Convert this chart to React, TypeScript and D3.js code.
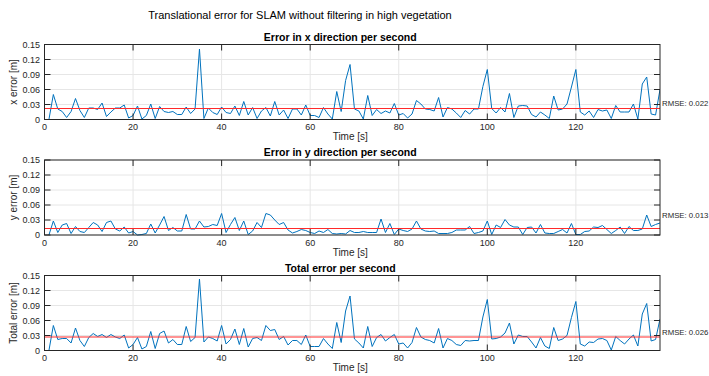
import React from "react";
import * as d3 from "d3";

const mainTitle = "Translational error for SLAM without filtering in high vegetation";
const titles = ["Error in x direction per second", "Error in y direction per second", "Total error per second"];
const yLabels = ["x error [m]", "y error [m]", "Total error [m]"];
const xLabel = "Time [s]";
const xTicks = [0, 20, 40, 60, 80, 100, 120];
const yTicks = [0, 0.03, 0.06, 0.09, 0.12, 0.15];
const rmseValues = [0.022, 0.013, 0.027];
const rmseLabels = ["RMSE: 0.022", "RMSE: 0.013", "RMSE: 0.026"];

const xError = [
  0, 0.05, 0.021, 0.016, 0.004, 0.016, 0.042, 0.018, 0.004, 0.023,
  0.023, 0.02, 0.033, 0.006, 0.015, 0.023, 0.023, 0.029, 0.003, 0.008,
  0.027, 0.001, 0.008, 0.031, 0.002, 0.026, 0.016, 0.014, 0.016, 0.01,
  0.01, 0.025, 0.012, 0.021, 0.141, 0.002, 0.023, 0.014, 0.01, 0.025,
  0.014, 0.012, 0.027, 0.008, 0.036, 0.009, 0.024, 0.002, 0.017, 0.024,
  0.007, 0.036, 0.009, 0.019, 0.002, 0.021, 0.021, 0.009, 0.029, 0.008,
  0.008, 0.004, 0.024, 0.011, 0.001, 0.056, 0.016, 0.078, 0.11, 0.021,
  0.017, 0.001, 0.048, 0.008, 0.02, 0.012, 0.017, 0.013, 0.032, 0.009,
  0.012, 0.003, 0.011, 0.038, 0.031, 0.021, 0.02, 0.017, 0.044, 0.005,
  0.024, 0.021, 0.013, 0.004, 0.018, 0.011, 0.021, 0.021, 0.066, 0.1,
  0.022, 0.013, 0.024, 0.015, 0.052, 0.004, 0.027, 0.028, 0.027, 0.01,
  0.005, 0.015, 0.009, 0.002, 0.047, 0.019, 0.021, 0.031, 0.065, 0.1,
  0.015, 0.009, 0.017, 0.004, 0.02, 0.017, 0.019, 0.002, 0.028, 0.015,
  0.015, 0.015, 0.031, 0.001, 0.071, 0.085, 0.011, 0.009, 0.06,
];

const yError = [
  0, 0.028, 0.005, 0.02, 0.023, 0.003, 0.017, 0.007, 0.005, 0.015,
  0.025, 0.02, 0.007, 0.025, 0.028, 0.012, 0.008, 0.016, 0.004, 0.007,
  0, 0.001, 0.003, 0.022, 0.004, 0.02, 0.037, 0.009, 0.015, 0.008,
  0.008, 0.041, 0.012, 0.012, 0.028, 0.016, 0.017, 0.021, 0.019, 0.043,
  0.005, 0.021, 0.035, 0.009, 0.028, 0.001, 0.008, 0.025, 0.015, 0.043,
  0.04, 0.03, 0.021, 0.025, 0.01, 0.004, 0.007, 0.011, 0.009, 0.005,
  0.003, 0.008, 0.005, 0.011, 0.003, 0.002, 0.003, 0.002, 0.009, 0.005,
  0.005, 0.007, 0.005, 0.005, 0.005, 0.032, 0.005, 0.023, 0.001, 0.012,
  0.009, 0.007, 0.012, 0.028, 0.012, 0.008, 0.007, 0.008, 0.003, 0.003,
  0.003, 0.005, 0.01, 0.01, 0.01, 0.017, 0.003, 0.005, 0.008, 0.028,
  0.001, 0.02, 0.015, 0.031, 0.02, 0.016, 0.016, 0.001, 0.015, 0.016,
  0.004, 0.021, 0.004, 0.003, 0.003, 0.007, 0.011, 0.004, 0.023, 0.001,
  0.001, 0.007, 0.008, 0.016, 0.015, 0.019, 0.011, 0.003, 0.009, 0.016,
  0.003, 0.017, 0.009, 0.009, 0.012, 0.04, 0.017, 0.021, 0.024,
];

const totalError = [
  0, 0.05, 0.022, 0.024, 0.024, 0.015, 0.045, 0.02, 0.008, 0.026,
  0.034, 0.028, 0.032, 0.026, 0.032, 0.027, 0.024, 0.031, 0.005, 0.012,
  0.026, 0.003, 0.008, 0.038, 0.004, 0.034, 0.039, 0.015, 0.022, 0.012,
  0.012, 0.048, 0.018, 0.026, 0.143, 0.017, 0.027, 0.024, 0.019, 0.05,
  0.013, 0.022, 0.043, 0.012, 0.044, 0.007, 0.024, 0.026, 0.02, 0.05,
  0.04, 0.042, 0.022, 0.028, 0.011, 0.02, 0.02, 0.012, 0.031, 0.008,
  0.008, 0.008, 0.024, 0.013, 0.004, 0.056, 0.016, 0.079, 0.109, 0.023,
  0.015, 0.005, 0.048, 0.008, 0.026, 0.032, 0.019, 0.026, 0.032, 0.013,
  0.015, 0.005, 0.016, 0.046, 0.027, 0.022, 0.02, 0.015, 0.044, 0.005,
  0.024, 0.02, 0.012, 0.01, 0.02, 0.019, 0.02, 0.02, 0.067, 0.102,
  0.023, 0.024, 0.027, 0.035, 0.055, 0.013, 0.031, 0.028, 0.028, 0.017,
  0.005, 0.026, 0.009, 0.004, 0.046, 0.02, 0.023, 0.03, 0.066, 0.098,
  0.013, 0.009, 0.017, 0.016, 0.023, 0.024, 0.02, 0.001, 0.028, 0.02,
  0.013, 0.023, 0.031, 0.009, 0.073, 0.094, 0.019, 0.022, 0.063,
];

const series = [xError, yError, totalError];
const rmseTextOffsets = [-5.5, -13, -4.5];

const W = 709;
const H = 376;
const left = 44.5;
const right = 660;
const tops = [44.5, 160, 275.5];
const plotH = 75;
const tickLen = 6;
const font = "'Liberation Sans', Arial, Helvetica, sans-serif";
const axisColor = "#262626";

function Panel({ idx }: { idx: number }) {
  const data = series[idx];
  const top = tops[idx];
  const bottom = top + plotH;
  const x = d3.scaleLinear().domain([0, 139]).range([left, right]);
  const y = d3.scaleLinear().domain([0, 0.15]).range([bottom, top]);
  const pts = data.map((v, i) => [i + 1, v] as [number, number]);
  const line = d3
    .line<[number, number]>()
    .x((d) => x(d[0]))
    .y((d) => y(d[1]));
  const cx = (left + right) / 2;
  const rm = rmseValues[idx];
  return (
    <g>
      <rect x={left} y={top} width={right - left} height={plotH} fill="#fff" />
      {xTicks.map((t) => (
        <line key={"gx" + t} x1={x(t)} x2={x(t)} y1={top} y2={bottom} stroke="#e6e6e6" strokeWidth={1} />
      ))}
      {yTicks.map((t) => (
        <line key={"gy" + t} x1={left} x2={right} y1={y(t)} y2={y(t)} stroke="#e6e6e6" strokeWidth={1} />
      ))}
      <clipPath id={"clip" + idx}>
        <rect x={left} y={top - 1} width={right - left} height={plotH + 2} />
      </clipPath>
      <g clipPath={`url(#clip${idx})`}>
        <path d={line(pts) || ""} fill="none" stroke="#0072BD" strokeWidth={1} strokeLinejoin="round" />
        <line x1={left} x2={right} y1={y(rm)} y2={y(rm)} stroke="#ff2a2a" strokeWidth={1.1} />
      </g>
      {xTicks.map((t) => (
        <g key={"tx" + t}>
          <line x1={x(t)} x2={x(t)} y1={bottom} y2={bottom - tickLen} stroke={axisColor} strokeWidth={1} />
          <line x1={x(t)} x2={x(t)} y1={top} y2={top + tickLen} stroke={axisColor} strokeWidth={1} />
          <text x={x(t)} y={bottom + 10.5} textAnchor="middle" fontSize={9} fill={axisColor} fontFamily={font}>
            {t}
          </text>
        </g>
      ))}
      {yTicks.map((t) => (
        <g key={"ty" + t}>
          <line x1={left} x2={left + tickLen} y1={y(t)} y2={y(t)} stroke={axisColor} strokeWidth={1} />
          <line x1={right} x2={right - tickLen} y1={y(t)} y2={y(t)} stroke={axisColor} strokeWidth={1} />
          <text x={left - 4.5} y={y(t)} dy="0.35em" textAnchor="end" fontSize={9} fill={axisColor} fontFamily={font}>
            {d3.format("~g")(t)}
          </text>
        </g>
      ))}
      <rect x={left} y={top} width={right - left} height={plotH} fill="none" stroke={axisColor} strokeWidth={1} />
      <text
        x={cx - 12}
        y={top - 4}
        textAnchor="middle"
        fontSize={10.5}
        fontWeight="bold"
        fill="#000"
        fontFamily={font}
      >
        {titles[idx]}
      </text>
      <text x={cx - 2} y={bottom + 20.5} textAnchor="middle" fontSize={10} fill={axisColor} fontFamily={font}>
        {xLabel}
      </text>
      <text
        transform={`translate(16.5,${(top + bottom) / 2}) rotate(-90)`}
        textAnchor="middle"
        fontSize={10}
        fill={axisColor}
        fontFamily={font}
      >
        {yLabels[idx]}
      </text>
      <text
        x={right + 2}
        y={y(rm) + rmseTextOffsets[idx]}
        dy="0.35em"
        fontSize={7.8}
        fill={axisColor}
        fontFamily={font}
      >
        {rmseLabels[idx]}
      </text>
    </g>
  );
}

export default function App() {
  return (
    <svg
      width={W}
      height={H}
      style={{ position: "absolute", left: 0, top: 0, display: "block", background: "#fff" }}
    >
      <rect x={0} y={0} width={W} height={H} fill="#fff" />
      <text x={300} y={19} textAnchor="middle" fontSize={11} fill="#000" fontFamily={font}>
        {mainTitle}
      </text>
      {[0, 1, 2].map((i) => (
        <Panel key={i} idx={i} />
      ))}
    </svg>
  );
}
